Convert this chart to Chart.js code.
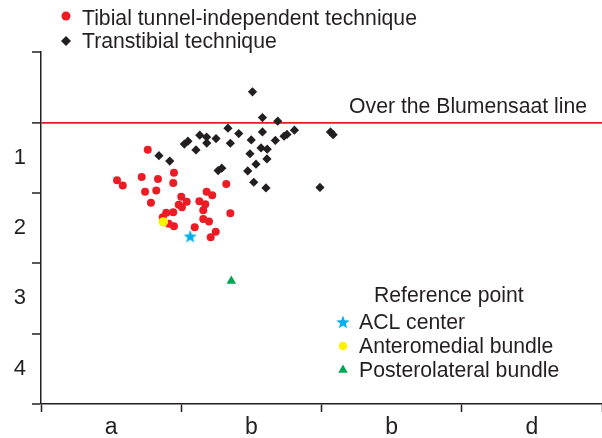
<!DOCTYPE html>
<html>
<head>
<meta charset="utf-8">
<script src="https://cdn.jsdelivr.net/npm/chart.js@4/dist/chart.umd.min.js"></script>
<style>
  html, body { margin: 0; padding: 0; background: #fff; overflow: hidden; }
  /* Chart.js keeps room on the right for the largest point (7px), so the
     canvas runs 7px past the window and the plot ends at the window edge */
  #wrap { width: 609px; height: 438px; }
</style>
</head>
<body>
<div id="wrap"><canvas id="chart"></canvas></div>
<script>
// tick labels (placed between tick marks)
const xTickLabels = ['a', 'b', 'b', 'd'];
const yTickLabels = ['1', '2', '3', '4'];

// Tibial tunnel-independent technique (red)
const tibialX = [0.761, 0.542, 0.583, 0.718, 0.834, 0.948, 0.943, 0.742, 0.822, 0.784, 1.000, 1.039, 0.982, 1.005, 1.181, 1.221,
                 1.321, 1.129, 1.171, 1.157, 1.350, 1.157, 1.198, 0.893, 0.943, 0.868, 0.911, 0.948, 1.096, 1.246, 1.210];
const tibialY = [0.387, 0.822, 0.898, 0.775, 0.803, 0.714, 0.860, 0.984, 0.969, 1.140, 1.055, 1.126, 1.168, 1.205, 0.984, 1.035,
                 0.874, 1.120, 1.163, 1.248, 1.291, 1.372, 1.407, 1.282, 1.276, 1.348, 1.439, 1.475, 1.490, 1.552, 1.632];

// Transtibial technique (black)
const transX = [1.508, 1.579, 1.688, 1.333, 1.410, 1.579, 1.807, 1.754, 1.733, 1.671, 1.499, 1.132, 1.181, 1.182, 1.248, 1.048, 1.022,
                1.105, 1.350, 1.569, 1.613, 1.490, 1.611, 0.841, 0.918, 1.533, 1.289, 1.263, 1.474, 1.517, 1.604, 1.989, 2.064, 2.083];
const transY = [-0.434, -0.068, -0.017, 0.082, 0.159, 0.135, 0.111, 0.171, 0.195, 0.256, 0.249, 0.181, 0.209, 0.294, 0.230, 0.267, 0.308,
                0.391, 0.296, 0.362, 0.380, 0.445, 0.519, 0.472, 0.550, 0.593, 0.650, 0.685, 0.689, 0.850, 0.931, 0.924, 0.135, 0.175];

// reference points
const refLabels = ['ACL center', 'Anteromedial bundle', 'Posterolateral bundle'];
const refX = [1.064, 0.872, 1.357];
const refY = [1.618, 1.414, 2.253];

const seriesLabels = ['Tibial tunnel-independent technique', 'Transtibial technique'];

const ink = '#231f20';
const red = '#ed1c24';
const cyan = '#00aeef';
const yellow = '#fff200';
const green = '#00a651';
const fontFamily = '"Liberation Sans", Arial, sans-serif';
const textFont = '21.2px ' + fontFamily;

function toPoints(xs, ys) {
    return xs.map(function(x, i) { return { x: x, y: ys[i] }; });
}

// filled five point star used as a point style
function makeStar(size, color) {
    const c = document.createElement('canvas');
    c.width = size; c.height = size;
    const g = c.getContext('2d');
    const cx = size / 2, cy = size / 2 + size * 0.04;
    const outer = size / 2, inner = outer * 0.42;
    g.beginPath();
    for (let i = 0; i < 10; i++) {
        const r = i % 2 === 0 ? outer : inner;
        const a = -Math.PI / 2 + i * Math.PI / 5;
        g.lineTo(cx + r * Math.cos(a), cy + r * Math.sin(a));
    }
    g.closePath();
    g.fillStyle = color;
    g.fill();
    return c;
}
const starImg = makeStar(14, cyan);

const refStyles = [
    { pointStyle: starImg, radius: 7, color: cyan },
    { pointStyle: 'circle', radius: 4.3, color: yellow },
    { pointStyle: 'triangle', radius: 5.5, color: green }
];

// legends and the Blumensaat label
const overlay = {
    id: 'overlay',
    afterDraw(chart) {
        const ctx = chart.ctx;
        const yScale = chart.scales.y;
        ctx.save();
        ctx.font = textFont;
        ctx.fillStyle = ink;
        ctx.textBaseline = 'alphabetic';

        ctx.textAlign = 'right';
        ctx.fillText('Over the Blumensaat line', 587, yScale.getPixelForValue(0) - 9);

        ctx.textAlign = 'left';
        // top-left legend
        ctx.fillStyle = red;
        Chart.helpers.drawPoint(ctx, { pointStyle: 'circle', radius: 4.5, borderWidth: 0 }, 66, 16);
        ctx.fillStyle = ink;
        Chart.helpers.drawPoint(ctx, { pointStyle: 'rectRot', radius: 5, borderWidth: 0 }, 66, 41);
        ctx.fillText(seriesLabels[0], 82, 25);
        ctx.fillText(seriesLabels[1], 82, 48);

        // reference legend
        ctx.fillText('Reference point', 374, 302);
        refLabels.forEach(function(lbl, i) {
            const y = 322 + i * 24;
            const s = refStyles[i];
            ctx.fillStyle = s.color;
            Chart.helpers.drawPoint(ctx, { pointStyle: s.pointStyle, radius: s.radius, borderWidth: 0 }, 343, y);
            ctx.fillStyle = ink;
            ctx.fillText(lbl, 359, y + 7);
        });
        ctx.restore();
    }
};

Chart.defaults.font.family = fontFamily;
Chart.defaults.color = ink;

const ctx = document.getElementById('chart');
new Chart(ctx, {
    type: 'scatter',
    data: {
        datasets: [
            {
                label: seriesLabels[0],
                data: toPoints(tibialX, tibialY),
                pointStyle: 'circle',
                pointRadius: 4,
                backgroundColor: red,
                borderWidth: 0,
                order: 2
            },
            {
                label: seriesLabels[1],
                data: toPoints(transX, transY),
                pointStyle: 'rectRot',
                pointRadius: 4.6,
                backgroundColor: ink,
                borderWidth: 0,
                order: 3
            },
            // reference points sit on top of the red cloud
            {
                label: refLabels[1],
                data: [{ x: refX[1], y: refY[1] }],
                pointStyle: 'circle',
                pointRadius: 4.8,
                backgroundColor: yellow,
                borderWidth: 0,
                order: 0
            },
            {
                label: refLabels[0],
                data: [{ x: refX[0], y: refY[0] }],
                pointStyle: starImg,
                pointRadius: 7,
                backgroundColor: cyan,
                borderWidth: 0,
                order: 0
            },
            {
                label: refLabels[2],
                data: [{ x: refX[2], y: refY[2] }],
                pointStyle: 'triangle',
                pointRadius: 5.5,
                backgroundColor: green,
                borderWidth: 0,
                order: 0
            }
        ]
    },
    options: {
        responsive: true,
        maintainAspectRatio: false,
        animation: false,
        layout: {
            padding: { top: 52, right: 0, bottom: 0, left: 0 }
        },
        plugins: {
            legend: { display: false },
            tooltip: { enabled: false }
        },
        scales: {
            x: {
                type: 'linear',
                min: 0,
                max: 4,
                afterFit: function(scale) {
                    scale.height = 34;
                    scale.paddingLeft = 0;
                    scale.paddingRight = 0;
                },
                border: { color: ink, width: 1.5 },
                grid: {
                    drawOnChartArea: false,
                    tickLength: 8,
                    tickWidth: 1.5,
                    tickColor: function(c) { return Number.isInteger(c.tick.value) ? ink : 'rgba(0,0,0,0)'; }
                },
                ticks: {
                    stepSize: 0.5,
                    autoSkip: false,
                    maxRotation: 0,
                    padding: 2,
                    font: { size: 23 },
                    color: ink,
                    callback: function(v) {
                        return Number.isInteger(v) ? '' : xTickLabels[Math.floor(v)];
                    }
                }
            },
            y: {
                type: 'linear',
                reverse: true,
                min: -1,
                max: 4,
                afterFit: function(scale) {
                    scale.width = 41;
                    scale.paddingTop = 0;
                    scale.paddingBottom = 0;
                },
                border: { color: ink, width: 1.5 },
                grid: {
                    drawOnChartArea: true,
                    color: function(c) { return c.tick && c.tick.value === 0 ? red : 'rgba(0,0,0,0)'; },
                    lineWidth: function(c) { return c.tick && c.tick.value === 0 ? 1.8 : 0; },
                    tickLength: 9,
                    tickWidth: 1.5,
                    tickColor: function(c) { return Number.isInteger(c.tick.value) ? ink : 'rgba(0,0,0,0)'; }
                },
                ticks: {
                    stepSize: 0.5,
                    autoSkip: false,
                    padding: 6,
                    font: { size: 22 },
                    color: ink,
                    callback: function(v) {
                        return (v > 0 && !Number.isInteger(v)) ? yTickLabels[Math.floor(v)] : '';
                    }
                }
            }
        }
    },
    plugins: [overlay]
});
</script>
</body>
</html>
